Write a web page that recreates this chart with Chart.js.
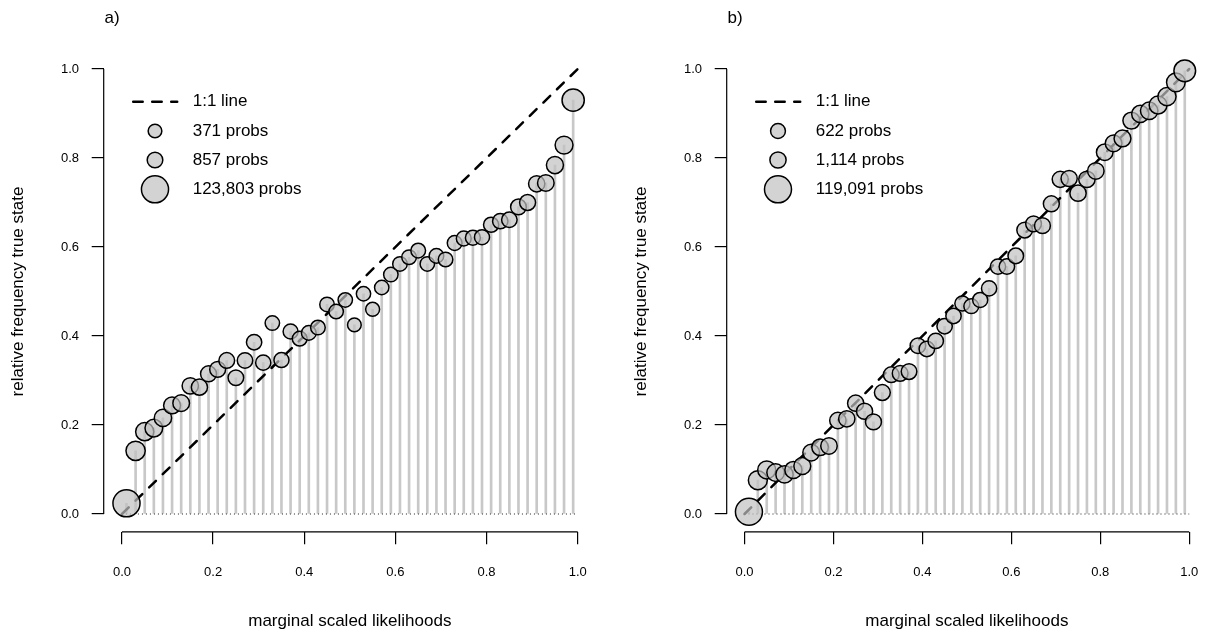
<!DOCTYPE html>
<html>
<head>
<meta charset="utf-8">
<script src="https://cdn.jsdelivr.net/npm/chart.js@4.4.1/dist/chart.umd.min.js"></script>
<style>
  html, body { margin: 0; padding: 0; background: #fff; }
  #wrap { position: relative; width: 1222px; height: 634px; overflow: hidden; }
  .panel { position: absolute; top: 0; }
  #panelA { left: 0; }
  #panelB { left: 623px; }
</style>
</head>
<body>
<div id="wrap">
  <div class="panel" id="panelA"><canvas id="chartA" width="611" height="634"></canvas></div>
  <div class="panel" id="panelB"><canvas id="chartB" width="599" height="634"></canvas></div>
</div>
<script>
// --- bin midpoints (marginal scaled likelihood) ---
const binMids = [
  0.01, 0.03, 0.05, 0.07, 0.09, 0.11, 0.13, 0.15, 0.17, 0.19,
  0.21, 0.23, 0.25, 0.27, 0.29, 0.31, 0.33, 0.35, 0.37, 0.39,
  0.41, 0.43, 0.45, 0.47, 0.49, 0.51, 0.53, 0.55, 0.57, 0.59,
  0.61, 0.63, 0.65, 0.67, 0.69, 0.71, 0.73, 0.75, 0.77, 0.79,
  0.81, 0.83, 0.85, 0.87, 0.89, 0.91, 0.93, 0.95, 0.97, 0.99
];

// --- panel a: relative frequency of true state per bin ---
const freqA = [
  0.024, 0.142, 0.185, 0.193, 0.216, 0.244, 0.249, 0.288, 0.285, 0.315,
  0.325, 0.345, 0.306, 0.345, 0.386, 0.340, 0.429, 0.346, 0.410, 0.394,
  0.407, 0.419, 0.471, 0.455, 0.481, 0.425, 0.495, 0.460, 0.509, 0.538,
  0.562, 0.577, 0.592, 0.562, 0.580, 0.572, 0.609, 0.619, 0.621, 0.622,
  0.650, 0.658, 0.661, 0.690, 0.700, 0.742, 0.744, 0.784, 0.829, 0.930
];
// number of probabilities in each bin (drives circle size)
const countsA = [
  123803, 4200, 2600, 2100, 1800, 1500, 1350, 1200, 1100, 1000,
  950, 900, 850, 800, 760, 720, 520, 680, 640, 600,
  580, 560, 540, 520, 500, 371, 490, 420, 500, 520,
  540, 560, 580, 520, 560, 540, 600, 620, 650, 680,
  720, 760, 820, 900, 1000, 1150, 1300, 1600, 2300, 15000
];
const legendCountsA = [371, 857, 123803];

// --- panel b ---
const freqB = [
  0.005, 0.076, 0.099, 0.093, 0.089, 0.099, 0.108, 0.138, 0.150, 0.153,
  0.210, 0.214, 0.249, 0.231, 0.207, 0.273, 0.313, 0.316, 0.320, 0.378,
  0.371, 0.389, 0.422, 0.445, 0.473, 0.467, 0.481, 0.507, 0.556, 0.556,
  0.580, 0.638, 0.652, 0.648, 0.697, 0.752, 0.754, 0.721, 0.752, 0.771,
  0.813, 0.833, 0.844, 0.884, 0.899, 0.906, 0.919, 0.938, 0.970, 0.996
];
const countsB = [
  119091, 3600, 2400, 2000, 1800, 1650, 1500, 1400, 1300, 1250,
  1200, 1150, 1114, 1080, 1000, 950, 900, 880, 860, 840,
  820, 800, 780, 760, 700, 622, 680, 720, 760, 800,
  840, 880, 920, 960, 1000, 1050, 1100, 1150, 1200, 1250,
  1300, 1380, 1450, 1550, 1700, 1900, 2300, 2600, 3200, 12000
];
const legendCountsB = [622, 1114, 119091];

// --- axes ---
const tickValues = [0, 0.2, 0.4, 0.6, 0.8, 1.0];
const tickLabels = ['0.0', '0.2', '0.4', '0.6', '0.8', '1.0'];
const identityLine = [{ x: 0, y: 0 }, { x: 1, y: 1 }];
const baseLine = [{ x: 0, y: 0 }, { x: 1, y: 0 }];

const FONT = '"Liberation Sans", Arial, Helvetica, sans-serif';
const CIRCLE_FILL = 'rgba(192,192,192,0.7)';
const DASH = [9.5, 9.5];

// circle radius grows with log of bin size
function circleRadius(n) {
  return 2.66 * Math.log10(n);
}

// axis lines, panel letter and legend, drawn R-style
const panelDecor = {
  id: 'panelDecor',
  afterDraw(chart, args, opts) {
    const { ctx, chartArea, scales: { x, y } } = chart;
    ctx.save();

    // axis lines only span the tick range
    ctx.strokeStyle = '#000';
    ctx.lineWidth = 1.2;
    ctx.beginPath();
    ctx.moveTo(x.getPixelForValue(0), chartArea.bottom);
    ctx.lineTo(x.getPixelForValue(1), chartArea.bottom);
    ctx.moveTo(chartArea.left, y.getPixelForValue(0));
    ctx.lineTo(chartArea.left, y.getPixelForValue(1));
    ctx.stroke();

    // panel letter
    ctx.fillStyle = '#000';
    ctx.font = '17px ' + FONT;
    ctx.textAlign = 'center';
    ctx.textBaseline = 'middle';
    ctx.fillText(opts.letter, 112, 18);

    // legend
    const lx = chartArea.left;
    const ly = chartArea.top;
    const symX = lx + 51.3;
    const textX = lx + 89;
    const rows = [ly + 50.5, ly + 79.8, ly + 108.8, ly + 138.1];

    ctx.setLineDash(DASH);
    ctx.lineWidth = 2.5;
    ctx.lineCap = 'round';
    ctx.beginPath();
    ctx.moveTo(lx + 29.5, rows[0]);
    ctx.lineTo(lx + 73.5, rows[0]);
    ctx.stroke();
    ctx.setLineDash([]);
    ctx.lineCap = 'butt';

    ctx.textAlign = 'left';
    ctx.fillText('1:1 line', textX, rows[0]);

    opts.counts.forEach((n, i) => {
      const cy = rows[i + 1];
      ctx.beginPath();
      ctx.arc(symX, cy, circleRadius(n), 0, Math.PI * 2);
      ctx.fillStyle = CIRCLE_FILL;
      ctx.fill();
      ctx.lineWidth = 1.5;
      ctx.strokeStyle = '#000';
      ctx.stroke();
      ctx.fillStyle = '#000';
      ctx.fillText(n.toLocaleString('en-US') + ' probs', textX, cy);
    });

    ctx.restore();
  }
};

function makePanel(canvasId, letter, freqs, counts, legendCounts, canvasWidth) {
  const points = binMids.map((m, i) => ({ x: m, y: freqs[i] }));

  return new Chart(document.getElementById(canvasId), {
    type: 'bar',
    data: {
      datasets: [
        {
          type: 'line',
          data: points,
          showLine: false,
          pointRadius: ctx => circleRadius(counts[ctx.dataIndex]),
          pointBackgroundColor: CIRCLE_FILL,
          pointBorderColor: '#000',
          pointBorderWidth: 1.5,
          order: 0
        },
        {
          type: 'line',
          data: identityLine,
          borderColor: '#000',
          borderWidth: 2.5,
          borderDash: DASH,
          borderCapStyle: 'round',
          pointRadius: 0,
          order: 1
        },
        {
          type: 'line',
          data: baseLine,
          borderColor: '#222',
          borderWidth: 1,
          borderDash: [1, 3],
          pointRadius: 0,
          order: 2
        },
        {
          type: 'bar',
          data: points,
          backgroundColor: '#c8c8c8',
          barThickness: 2,
          order: 3
        }
      ]
    },
    options: {
      responsive: false,
      animation: false,
      events: [],
      layout: {
        padding: { top: 51.2, right: canvasWidth - 597.3, bottom: 0, left: 0 }
      },
      scales: {
        x: {
          type: 'linear',
          min: -0.04,
          max: 1.04,
          offset: false,
          afterFit: s => { s.height = 102.2; },
          afterBuildTicks: s => { s.ticks = tickValues.map(v => ({ value: v })); },
          border: { display: false },
          grid: {
            offset: false,
            drawOnChartArea: false,
            drawTicks: true,
            tickLength: 12.5,
            color: '#000',
            lineWidth: 1.2
          },
          ticks: {
            autoSkip: false,
            maxRotation: 0,
            padding: 20,
            color: '#000',
            font: { family: FONT, size: 13 },
            callback: (v, i) => tickLabels[i]
          },
          title: {
            display: true,
            text: 'marginal scaled likelihoods',
            color: '#000',
            font: { family: FONT, size: 17 },
            padding: { top: 0, bottom: 2 }
          }
        },
        y: {
          type: 'linear',
          min: -0.04,
          max: 1.04,
          afterFit: s => { s.width = 103.7; },
          afterBuildTicks: s => { s.ticks = tickValues.map(v => ({ value: v })); },
          border: { display: false },
          grid: {
            drawOnChartArea: false,
            drawTicks: true,
            tickLength: 12,
            color: '#000',
            lineWidth: 1.2
          },
          ticks: {
            autoSkip: false,
            padding: 12.7,
            color: '#000',
            font: { family: FONT, size: 13 },
            callback: (v, i) => tickLabels[i]
          },
          title: {
            display: true,
            text: 'relative frequency true state',
            color: '#000',
            font: { family: FONT, size: 17 },
            padding: { top: 7.8, bottom: 0 }
          }
        }
      },
      plugins: {
        legend: { display: false },
        tooltip: { enabled: false },
        panelDecor: { letter: letter, counts: legendCounts }
      }
    },
    plugins: [panelDecor]
  });
}

makePanel('chartA', 'a)', freqA, countsA, legendCountsA, 611);
makePanel('chartB', 'b)', freqB, countsB, legendCountsB, 599);
</script>
</body>
</html>
